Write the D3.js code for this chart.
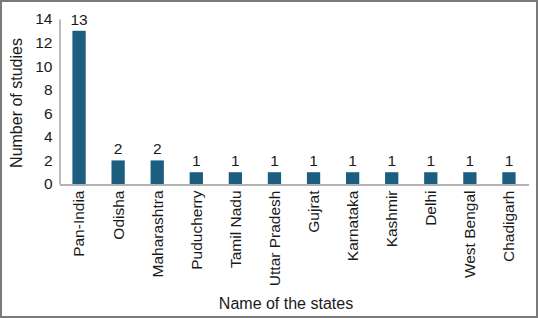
<!DOCTYPE html>
<html lang="en">
<head>
<meta charset="UTF-8">
<title>Number of studies by state</title>
<script src="https://d3js.org/d3.v7.min.js"></script>
<style>
  body { margin: 0; background: #fff; }
  svg { display: block; font-family: "Liberation Sans", Arial, sans-serif; }
</style>
</head>
<body>
<svg id="chart" width="538" height="318"></svg>
<script>
// data
const states = ['Pan-India', 'Odisha', 'Maharashtra', 'Puducherry', 'Tamil Nadu', 'Uttar Pradesh',
                'Gujrat', 'Karnataka', 'Kashmir', 'Delhi', 'West Bengal', 'Chadigarh'];
const studies = [13, 2, 2, 1, 1, 1, 1, 1, 1, 1, 1, 1];
const yTicks = [0, 2, 4, 6, 8, 10, 12, 14];

const svg = d3.select('#chart');
const W = +svg.attr('width'), H = +svg.attr('height');
const fs = 15.5;

// outer frame
svg.append('rect')
    .attr('x', 1).attr('y', 1)
    .attr('width', W - 2).attr('height', H - 2)
    .attr('fill', 'none')
    .attr('stroke', '#7a7a7a')
    .attr('stroke-width', 2);

const x = d3.scaleBand()
    .domain(states)
    .range([59.5, 528.5])
    .paddingInner(0.66)
    .paddingOuter(0.33);

const y = d3.scaleLinear()
    .domain([0, 14])
    .range([184, 19]);

// y axis: line + labels, no ticks
const yAxis = svg.append('g')
    .attr('transform', 'translate(59.5,0)')
    .call(d3.axisLeft(y).tickValues(yTicks).tickSize(0).tickPadding(7));
yAxis.select('.domain').attr('stroke', '#9a9a9a').attr('stroke-width', 1.3);
yAxis.selectAll('text').attr('font-size', fs).attr('fill', '#1a1a1a')
    .attr('font-family', '"Liberation Sans", Arial, sans-serif');

// bars
svg.selectAll('.bar')
    .data(studies)
    .join('rect')
    .attr('class', 'bar')
    .attr('x', (d, i) => x(states[i]))
    .attr('y', d => y(d))
    .attr('width', x.bandwidth())
    .attr('height', d => y(0) - y(d))
    .attr('fill', '#1c5e80');

// value labels
svg.selectAll('.val')
    .data(studies)
    .join('text')
    .attr('class', 'val')
    .attr('x', (d, i) => x(states[i]) + x.bandwidth() / 2)
    .attr('y', d => y(d) - 6)
    .attr('text-anchor', 'middle')
    .attr('font-size', fs)
    .attr('fill', '#1a1a1a')
    .text(d => d);

// x axis: baseline + rotated labels
const xAxis = svg.append('g')
    .attr('transform', 'translate(0,184.5)')
    .call(d3.axisBottom(x).tickSize(0).tickPadding(0));
xAxis.select('.domain').attr('stroke', '#9a9a9a').attr('stroke-width', 1.3);
xAxis.selectAll('text')
    .attr('font-size', fs)
    .attr('fill', '#1a1a1a')
    .attr('font-family', '"Liberation Sans", Arial, sans-serif')
    .attr('transform', 'rotate(-90)')
    .attr('text-anchor', 'end')
    .attr('x', -6)
    .attr('y', 0)
    .attr('dy', '0.35em');

// axis titles
svg.append('text')
    .attr('x', 286)
    .attr('y', 309)
    .attr('text-anchor', 'middle')
    .attr('font-size', 16)
    .attr('fill', '#1a1a1a')
    .text('Name of the states');

svg.append('text')
    .attr('transform', 'translate(22,103) rotate(-90)')
    .attr('text-anchor', 'middle')
    .attr('font-size', 16)
    .attr('fill', '#1a1a1a')
    .text('Number of studies');
</script>
</body>
</html>
